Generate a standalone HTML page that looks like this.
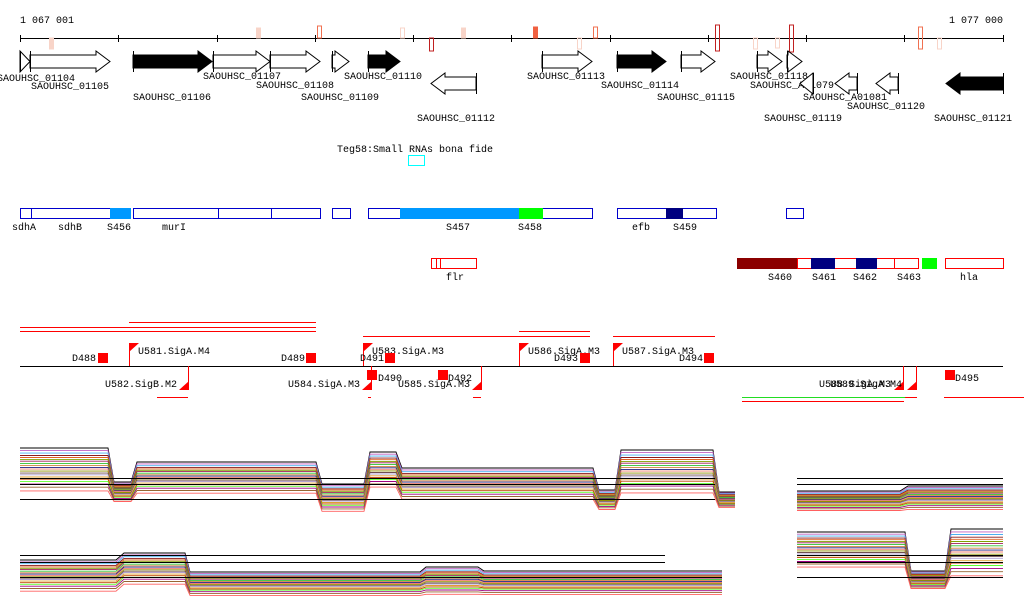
<!DOCTYPE html>
<html><head><meta charset="utf-8"><style>
html,body{margin:0;padding:0;background:#fff;}
svg{display:block;font-family:"Liberation Mono",monospace;font-size:10px;}
</style></head><body>
<svg id="c" width="1024" height="611" viewBox="0 0 1024 611">
<g id="ruler"></g>
<g id="genes"></g>
<g id="feat"></g>
<g id="prom"></g>
<g id="expr"></g>
</svg>
<script>
const NS='http://www.w3.org/2000/svg';
// ---- data ----
const rulerTicks=[20,118,217,315,413,511,610,708,806,904,1003];
const markers=[[51,38,49,'#f8d4c8',1],[258,28,38,'#f8d4c8',1],[319,26,38,'#f07050',0],[402,28,38,'#f8d4c8',0],[431,38,51,'#c02020',0],[463,28,38,'#f8d4c8',1],[535,27,38,'#f06040',1],[579,38,49,'#f8d4c8',0],[595,27,38,'#f07050',0],[717,25,51,'#c02020',0],[755,38,49,'#f8d4c8',0],[777,38,48,'#f8d4c8',0],[791,25,52,'#c02020',0],[920,27,49,'#f07050',0],[939,38,49,'#f8d4c8',0]];
const genes=[[20,30,1,0,'SAOUHSC_01104',-3,81],[30,110,1,0,'SAOUHSC_01105',31,89],[133,212,1,1,'SAOUHSC_01106',133,100],[213,270,1,0,'SAOUHSC_01107',203,79],[270,320,1,0,'SAOUHSC_01108',256,88],[332,349,1,0,'SAOUHSC_01109',301,100],[368,400,1,1,'SAOUHSC_01110',344,79],[431,476,-1,0,'SAOUHSC_01112',417,121],[542,592,1,0,'SAOUHSC_01113',527,79],[617,666,1,1,'SAOUHSC_01114',601,88],[681,715,1,0,'SAOUHSC_01115',657,100],[757,782,1,0,'SAOUHSC_01118',730,79],[787,802,1,0,'SAOUHSC_A01079',750,88],[800,813,-1,0,'SAOUHSC_01119',764,121],[835,857,-1,0,'SAOUHSC_A01081',803,100],[876,898,-1,0,'SAOUHSC_01120',847,109],[946,1003,-1,1,'SAOUHSC_01121',934,121]];
const boxes=[[20,110,208,'#0000cc','none'],[110,130,208,'#0000cc','none'],[110,130,208,'#09f','#09f'],[133,320,208,'#0000cc','none'],[332,350,208,'#0000cc','none'],[368,592,208,'#0000cc','none'],[400,519,208,'#09f','#09f'],[519,542,208,'#0f0','#0f0'],[617,716,208,'#0000cc','none'],[666,682,208,'#000080','#000080'],[786,803,208,'#0000cc','none'],
[408,424,155,'#0ff','none'],
[431,476,258,'#f00','none'],[737,797,258,'#8b0000','#8b0000'],[797,918,258,'#f00','none'],[811,834,258,'#000080','#000080'],[856,874,258,'#f00','none'],[856,876,258,'#000080','#000080'],[922,936,258,'#0f0','#0f0'],[945,1003,258,'#f00','none']];
const dividers=[[31,208,'#0000cc'],[218,208,'#0000cc'],[271,208,'#0000cc'],[436,258,'#f00'],[440,258,'#f00'],[894,258,'#f00']];
const featLabels=[['sdhA',12,230],['sdhB',58,230],['S456',107,230],['murI',162,230],['S457',446,230],['S458',518,230],['efb',632,230],['S459',673,230],['flr',446,280],['S460',768,280],['S461',812,280],['S462',853,280],['S463',897,280],['hla',960,280],['Teg58:Small RNAs bona fide',337,152]];
const redLines=[[129,316,322],[20,316,327],[20,316,331],[519,590,331],[363,590,336],[613,715,336],[157,188,397],[368,371,397],[473,481,397],[742,904,401],[905,917,397],[944,1024,397]];
const proms=[[129,1,'U581.SigA.M4',138,354],[363,1,'U583.SigA.M3',372,354],[519,1,'U586.SigA.M3',528,354],[613,1,'U587.SigA.M3',622,354],[188,-1,'U582.SigB.M2',105,387],[371,-1,'U584.SigA.M3',288,387],[481,-1,'U585.SigA.M3',398,387],[903,-1,'U588.SigA.M3',819,387],[916,-1,'U589.SigA.M4',830,387]];
const terms=[[98,353,'D488',72,361],[306,353,'D489',281,361],[385,353,'D491',360,361],[580,353,'D493',554,361],[704,353,'D494',679,361],[367,370,'D490',378,381],[438,370,'D492',448,381],[945,370,'D495',955,381]];
// expression panels: segments [x0,x1,center,spread]
const seg1=[[20,108,470,22],[114,131,492,10],[137,316,478,16],[322,364,498,14],[370,396,470,18],[402,593,484,16],[599,615,500,10],[621,713,472,22],[719,735,500,8]];
const seg2=[[797,900,501,10],[908,1003,498,12]];
const seg3=[[20,116,576,16],[124,185,569,16],[190,420,584,12],[426,478,581,14],[484,722,583,12]];
const seg4=[[797,905,550,18],[911,945,580,9],[951,1003,553,24]];
const offsets=[-1.0,-0.88,-0.77,-0.66,-0.57,-0.48,-0.4,-0.3,-0.2,-0.12,-0.04,0.05,0.14,0.22,0.32,0.42,0.52,0.64,0.78,0.95];
const colors=['#000','#c060c0','#4ab0f0','#8b1a1a','#e06020','#80a000','#a0205a','#30c030','#d08040','#202080','#f08070','#909000','#705050','#b0a0d0','#e0a030','#c04000','#60ff30','#a00080','#996633','#ff6060'];
const hlines=[[20,715,478],[20,715,484],[20,715,499],[797,1003,478],[797,1003,484],[20,665,555],[20,665,562],[20,722,577],[797,1003,555],[797,1003,562],[797,1003,577]];
// ---- draw ----
function el(p,t,a){const e=document.createElementNS(NS,t);for(const k in a)e.setAttribute(k,a[k]);p.appendChild(e);return e;}
const R=document.getElementById('ruler'),G=document.getElementById('genes'),F=document.getElementById('feat'),P=document.getElementById('prom'),E=document.getElementById('expr');
let l=el(R,'line',{x1:20,x2:1003,y1:38.5,y2:38.5,stroke:'#000'});

rulerTicks.forEach(x=>{const t=el(R,'line',{x1:x+.5,x2:x+.5,y1:35,y2:42,stroke:'#000'});});
let t1=el(R,'text',{x:20,y:23});t1.textContent='1 067 001';
let t2=el(R,'text',{x:1003,y:23,'text-anchor':'end'});t2.textContent='1 077 000';
markers.forEach(m=>{const r=el(R,'rect',{x:m[0]-1.5,y:m[1],width:4,height:m[2]-m[1],fill:m[4]?m[3]:'none',stroke:m[3]});});
genes.forEach(g=>{const [x0,x1,d,f,lab,lx,ly]=g;const y0=d>0?51:73,y1=y0+21,ym=y0+10.5;const h=Math.min(14,(x1-x0));let pts;
 if(d>0){const hx=x1-h;pts=[[x0,y0+4],[hx,y0+4],[hx,y0],[x1,ym],[hx,y1],[hx,y1-4],[x0,y1-4]];}
 else{const hx=x0+h;pts=[[x1,y0+4],[hx,y0+4],[hx,y0],[x0,ym],[hx,y1],[hx,y1-4],[x1,y1-4]];}
 const p=el(G,'polygon',{points:pts.map(q=>q.join(',')).join(' '),fill:f?'#000':'#fff',stroke:'#000'});
 const sx=d>0?x0:x1;const s=el(G,'line',{x1:sx+.5,x2:sx+.5,y1:y0,y2:y1,stroke:'#000'});
 const t=el(G,'text',{x:lx,y:ly});t.textContent=lab;});
boxes.forEach(b=>{const r=el(F,'rect',{x:b[0]+.5,y:b[2]+.5,width:b[1]-b[0],height:10,fill:b[4]==='none'?'#fff':b[4],stroke:b[3]});});
dividers.forEach(d=>{const q=el(F,'line',{x1:d[0]+.5,x2:d[0]+.5,y1:d[1],y2:d[1]+11,stroke:d[2]});});
featLabels.forEach(f=>{const t=el(F,'text',{x:f[1],y:f[2]});t.textContent=f[0];});
let bl=el(P,'line',{x1:20,x2:1003,y1:366.5,y2:366.5,stroke:'#000'});
redLines.forEach(r=>{const q=el(P,'line',{x1:r[0],x2:r[1],y1:r[2]+.5,y2:r[2]+.5,stroke:'#f00'});});
let gl=el(P,'line',{x1:742,x2:905,y1:397.5,y2:397.5,stroke:'#2d2'});

proms.forEach(p=>{const [x,d,lab,lx,ly]=p;let g;
 if(d>0){el(P,'line',{x1:x+.5,x2:x+.5,y1:343,y2:366,stroke:'#f00'});g=el(P,'polygon',{points:`${x},343 ${x+10},343 ${x},352`,fill:'#f00'});}
 else{el(P,'line',{x1:x+.5,x2:x+.5,y1:366,y2:390,stroke:'#f00'});g=el(P,'polygon',{points:`${x+1},381 ${x+1},390 ${x-9},390`,fill:'#f00'});}
 
 const t=el(P,'text',{x:lx,y:ly});t.textContent=lab;});
terms.forEach(m=>{const [x,y,lab,lx,ly]=m;const r=el(P,'rect',{x:x,y:y,width:10,height:10,fill:'#f00'});
 const t=el(P,'text',{x:lx,y:ly});t.textContent=lab;});
function panel(segs,name){offsets.forEach((o,i)=>{const pts=[];segs.forEach(s=>{const y=s[2]+o*s[3];pts.push(s[0]+','+y.toFixed(1),s[1]+','+y.toFixed(1));});
 const pl=el(E,'polyline',{points:pts.join(' '),fill:'none',stroke:colors[i%colors.length],'stroke-width':0.9});});}
panel(seg1,'panel-top-left');panel(seg2,'panel-top-right');panel(seg3,'panel-bottom-left');panel(seg4,'panel-bottom-right');
hlines.forEach(h=>{const q=el(E,'line',{x1:h[0],x2:h[1],y1:h[2]+.5,y2:h[2]+.5,stroke:'#000'});});
</script>
</body></html>
